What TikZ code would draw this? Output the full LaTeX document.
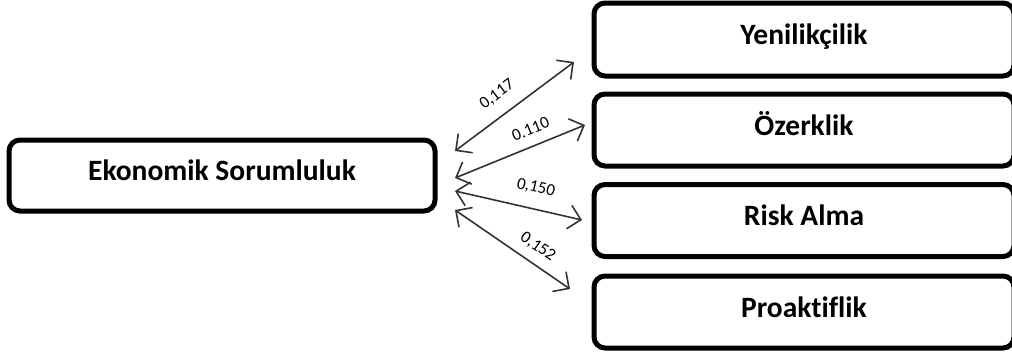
\documentclass[tikz,border=0pt]{standalone}
\usepackage{fontspec}
\setmainfont[Ligatures=NoCommon]{Carlito}
\usetikzlibrary{arrows.meta}

\begin{document}
\begin{tikzpicture}[x=1pt,y=-1pt,
  box/.style={draw=black, line width=5pt, rounded corners=11pt,
    minimum height=72pt, inner sep=0pt, text height=10pt, text depth=0pt,
    font=\bfseries\fontsize{29.5}{31}\selectfont},
  rightbox/.style={box, minimum width=420pt},
  link/.style={draw=black!80, line width=1.6pt,
    {Straight Barb[length=12pt,width=24pt]}-{Straight Barb[length=12pt,width=24pt]}},
  coef/.style={sloped, font=\fontsize{17}{18}\selectfont, inner sep=0pt}]

\useasboundingbox (0,0) rectangle (1012,354);
\clip (0,0) rectangle (1012,354);

% boxes
\node[box, minimum width=426pt, minimum height=71pt] (eko) at (222,175.5) {Ekonomik Sorumluluk};
\node[rightbox, minimum height=73pt] (yen)  at (804,39.5) {Yenilikçilik};
\node[rightbox] (oze)  at (804,130)   {Özerklik};
\node[rightbox] (risk) at (804,220.5) {Risk Alma};
\node[rightbox] (pro)  at (804,312)   {Proaktiflik};

% arrow end points
\coordinate (s1) at (455,151);  \coordinate (t1) at (574,62);
\coordinate (s2) at (455,178);  \coordinate (t2) at (585,125);
\coordinate (s3) at (455,191);  \coordinate (t3) at (582,220);
\coordinate (s4) at (455,210);  \coordinate (t4) at (570,289);

% two-headed links with coefficients
\draw[link] (s1) -- node[coef, pos=0.454, above=12.5pt] {0,117} (t1);
\draw[link] (s2) -- node[coef, pos=0.63,  above=10.5pt] {0.110} (t2);
\draw[link] (s3) -- node[coef, pos=0.60,  above=13.5pt] {0,150} (t3);
\draw[link] (s4) -- node[coef, pos=0.64,  above=9pt]    {0,152} (t4);
\end{tikzpicture}
\end{document}
